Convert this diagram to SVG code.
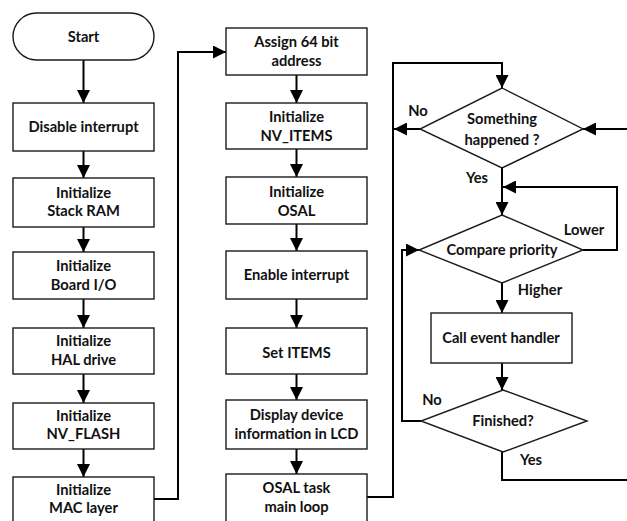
<svg xmlns="http://www.w3.org/2000/svg" width="627" height="521" viewBox="0 0 627 521">
  <style>
    .box { fill: #ffffff; stroke: #1a1a1a; stroke-width: 1.4; }
    .lbl { font-family: Lato, "Liberation Sans", sans-serif; font-weight: 700; font-size: 14.7px; fill: #111111; text-anchor: middle; }
    .tag { font-family: Lato, "Liberation Sans", sans-serif; font-weight: 700; font-size: 14.7px; fill: #111111; text-anchor: middle; }
    .wire { fill: none; stroke: #000000; stroke-width: 2; }
  </style>
  <defs>
    <marker id="arrow" viewBox="0 0 13 13" refX="13" refY="6.5" markerWidth="13" markerHeight="13" markerUnits="userSpaceOnUse" orient="auto">
      <path d="M0,0 L13,6.5 L0,13 z" fill="#000000"/>
    </marker>
  </defs>
  <rect width="627" height="521" fill="#ffffff"/>

  <!-- connectors -->
  <g id="connectors">
    <line class="wire" x1="83.5" y1="60" x2="83.5" y2="103" marker-end="url(#arrow)"/>
    <line class="wire" x1="83.5" y1="151" x2="83.5" y2="178" marker-end="url(#arrow)"/>
    <line class="wire" x1="83.5" y1="227" x2="83.5" y2="252" marker-end="url(#arrow)"/>
    <line class="wire" x1="83.5" y1="299" x2="83.5" y2="328" marker-end="url(#arrow)"/>
    <line class="wire" x1="83.5" y1="374" x2="83.5" y2="403" marker-end="url(#arrow)"/>
    <line class="wire" x1="83.5" y1="449" x2="83.5" y2="477" marker-end="url(#arrow)"/>
    <polyline class="wire" points="154,499 178,499 178,52 226,52" marker-end="url(#arrow)"/>

    <line class="wire" x1="296.5" y1="75" x2="296.5" y2="103" marker-end="url(#arrow)"/>
    <line class="wire" x1="296.5" y1="149" x2="296.5" y2="177" marker-end="url(#arrow)"/>
    <line class="wire" x1="296.5" y1="224" x2="296.5" y2="251" marker-end="url(#arrow)"/>
    <line class="wire" x1="296.5" y1="299" x2="296.5" y2="328" marker-end="url(#arrow)"/>
    <line class="wire" x1="296.5" y1="374" x2="296.5" y2="400" marker-end="url(#arrow)"/>
    <line class="wire" x1="296.5" y1="449" x2="296.5" y2="474" marker-end="url(#arrow)"/>
    <polyline class="wire" points="367,497 393,497 393,63 502,63 502,88" marker-end="url(#arrow)"/>

    <line class="wire" x1="420" y1="129" x2="394" y2="129" marker-end="url(#arrow)"/>
    <line class="wire" x1="627" y1="129" x2="583" y2="129" marker-end="url(#arrow)"/>
    <line class="wire" x1="502" y1="168" x2="502" y2="215" marker-end="url(#arrow)"/>
    <polyline class="wire" points="583,250 617,250 617,187 503,187" marker-end="url(#arrow)"/>
    <line class="wire" x1="502" y1="283" x2="502" y2="313" marker-end="url(#arrow)"/>
    <line class="wire" x1="502" y1="363" x2="502" y2="390" marker-end="url(#arrow)"/>
    <polyline class="wire" points="421,421 402,421 402,250 419,250" marker-end="url(#arrow)"/>
    <polyline class="wire" points="502,452 502,480 627,480"/>

    <text class="tag" x="418" y="116">No</text>
    <text class="tag" x="477" y="183">Yes</text>
    <text class="tag" x="584" y="235">Lower</text>
    <text class="tag" x="540" y="295">Higher</text>
    <text class="tag" x="432" y="405">No</text>
    <text class="tag" x="531" y="465">Yes</text>
  </g>

  <!-- start-up sequence -->
  <g id="start">
    <rect class="box" x="13" y="13" width="141" height="47" rx="23.5"/>
    <text class="lbl" x="83.5" y="42">Start</text>
  </g>
  <g id="disable-interrupt">
    <rect class="box" x="13" y="103" width="141" height="48"/>
    <text class="lbl" x="83.5" y="132">Disable interrupt</text>
  </g>
  <g id="init-stack-ram">
    <rect class="box" x="13" y="178" width="141" height="49"/>
    <text class="lbl" x="83.5" y="198">Initialize</text>
    <text class="lbl" x="83.5" y="216">Stack RAM</text>
  </g>
  <g id="init-board-io">
    <rect class="box" x="13" y="252" width="141" height="47"/>
    <text class="lbl" x="83.5" y="271">Initialize</text>
    <text class="lbl" x="83.5" y="290">Board I/O</text>
  </g>
  <g id="init-hal-drive">
    <rect class="box" x="13" y="328" width="141" height="46"/>
    <text class="lbl" x="83.5" y="346">Initialize</text>
    <text class="lbl" x="83.5" y="365">HAL drive</text>
  </g>
  <g id="init-nv-flash">
    <rect class="box" x="13" y="403" width="141" height="46"/>
    <text class="lbl" x="83.5" y="421">Initialize</text>
    <text class="lbl" x="83.5" y="439">NV_FLASH</text>
  </g>
  <g id="init-mac-layer">
    <rect class="box" x="13" y="477" width="141" height="60"/>
    <text class="lbl" x="83.5" y="495">Initialize</text>
    <text class="lbl" x="83.5" y="513">MAC layer</text>
  </g>

  <g id="assign-address">
    <rect class="box" x="226" y="28" width="141" height="47"/>
    <text class="lbl" x="296.5" y="47">Assign 64 bit</text>
    <text class="lbl" x="296.5" y="66">address</text>
  </g>
  <g id="init-nv-items">
    <rect class="box" x="226" y="103" width="141" height="46"/>
    <text class="lbl" x="296.5" y="122">Initialize</text>
    <text class="lbl" x="296.5" y="141">NV_ITEMS</text>
  </g>
  <g id="init-osal">
    <rect class="box" x="226" y="177" width="141" height="47"/>
    <text class="lbl" x="296.5" y="197">Initialize</text>
    <text class="lbl" x="296.5" y="216">OSAL</text>
  </g>
  <g id="enable-interrupt">
    <rect class="box" x="226" y="251" width="141" height="48"/>
    <text class="lbl" x="296.5" y="280">Enable interrupt</text>
  </g>
  <g id="set-items">
    <rect class="box" x="226" y="328" width="141" height="46"/>
    <text class="lbl" x="296.5" y="358">Set ITEMS</text>
  </g>
  <g id="display-info">
    <rect class="box" x="226" y="400" width="141" height="49"/>
    <text class="lbl" x="296.5" y="420">Display device</text>
    <text class="lbl" x="296.5" y="439">information in LCD</text>
  </g>
  <g id="osal-main-loop">
    <rect class="box" x="226" y="474" width="141" height="60"/>
    <text class="lbl" x="296.5" y="493">OSAL task</text>
    <text class="lbl" x="296.5" y="512">main loop</text>
  </g>

  <!-- event loop -->
  <g id="something-happened">
    <polygon class="box" points="502,88 583,129 502,168 420,129"/>
    <text class="lbl" x="502" y="124">Something</text>
    <text class="lbl" x="502" y="145">happened ?</text>
  </g>
  <g id="compare-priority">
    <polygon class="box" points="502,215 583,250 502,283 419,250"/>
    <text class="lbl" x="502" y="255">Compare priority</text>
  </g>
  <g id="call-event-handler">
    <rect class="box" x="431" y="313" width="141" height="50"/>
    <text class="lbl" x="501" y="343">Call event handler</text>
  </g>
  <g id="finished">
    <polygon class="box" points="503,390 587,421 503,452 421,421"/>
    <text class="lbl" x="503" y="426">Finished?</text>
  </g>
</svg>
